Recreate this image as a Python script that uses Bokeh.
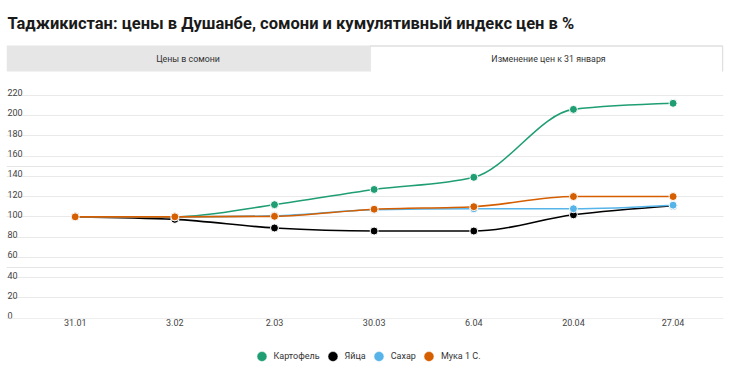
import numpy as np
from bokeh.plotting import figure
from bokeh.models import Range1d, FixedTicker, Legend, LegendItem, Grid
from bokeh.layouts import column
from bokeh.embed import file_html
from bokeh.resources import INLINE
from bokeh.core.properties import value

# ---------------- data ----------------
title_text = "Таджикистан: цены в Душанбе, сомони и кумулятивный индекс цен в %"
tab_labels = ["Цены в сомони", "Изменение цен к 31 января"]
dates = ["31.01", "3.02", "2.03", "30.03", "6.04", "20.04", "27.04"]
series_names = ["Картофель", "Яйца", "Сахар", "Мука 1 С."]
kartofel = [100, 100, 112, 127, 139, 206, 212]
yaitsa = [100, 97.5, 89, 86, 86, 102, 111]
sahar = [100, 100, 101, 107, 108, 108, 111.5]
muka = [100, 100, 100.5, 107.5, 110, 120, 120]
y_ticks = [0, 20, 40, 60, 80, 100, 120, 140, 160, 180, 200, 220]
y_labels = ["0", "20", "40", "60", "80", "100", "120", "140", "160", "180", "200", "220"]
colors = ["#1f9e74", "#000000", "#56b4e9", "#d55e00"]

FONT = "Roboto"
W = 730
FL, FR = 6, 723          # frame left/right in page pixels (shared by all rows)
X0, X1 = -0.6894, 6.506


def monotone_beziers(xs, ys):
    """Cubic bezier segments of a monotone-x curve (as d3.curveMonotoneX)."""
    xs = np.asarray(xs, float)
    ys = np.asarray(ys, float)
    n = len(xs)
    h = np.diff(xs)
    s = np.diff(ys) / h
    t = np.zeros(n)
    sg = lambda v: -1.0 if v < 0 else 1.0
    for i in range(1, n - 1):
        h0, h1 = h[i - 1], h[i]
        s0, s1 = s[i - 1], s[i]
        pp = (s0 * h1 + s1 * h0) / (h0 + h1)
        t[i] = (sg(s0) + sg(s1)) * min(abs(s0), abs(s1), 0.5 * abs(pp))
    t[0] = (3 * s[0] - t[1]) / 2
    t[-1] = (3 * s[-1] - t[-2]) / 2
    d = h / 3
    x0, x1 = xs[:-1], xs[1:]
    return dict(x0=x0, y0=ys[:-1], x1=x1, y1=ys[1:],
                cx0=x0 + d, cy0=ys[:-1] + t[:-1] * d,
                cx1=x1 - d, cy1=ys[1:] - t[1:] * d)


def bare(fig):
    fig.grid.visible = False
    fig.outline_line_color = None
    return fig


# ---------------- header (title + tabs) ----------------
hdr = bare(figure(width=W, height=80, x_range=Range1d(FL, FR), y_range=Range1d(80, 0),
                  output_backend="svg", toolbar_location=None,
                  x_axis_location=None, y_axis_location=None,
                  min_border_left=FL, min_border_right=W - FR,
                  min_border_top=0, min_border_bottom=0))

hdr.text(x=[7], y=[22.5], text=[title_text], text_font=value(FONT),
         text_font_style="bold", text_font_size="16.5px", text_color="#1a1a1a",
         text_baseline="alphabetic", text_align="left")

hdr.quad(left=[FL], right=[369], top=[45], bottom=[71], fill_color="#e6e6e6", line_color=None)
hdr.quad(left=[369], right=[FR], top=[45], bottom=[71], fill_color="#ffffff", line_color=None)
hdr.multi_line(xs=[[369.5, 369.5, FR - 0.8, FR - 0.8]], ys=[[71, 45.6, 45.6, 71]],
               line_color="#e0e0e0", line_width=1.5)

hdr.text(x=[187.5, 548], y=[58.5, 58.5], text=tab_labels, text_font=value(FONT),
         text_font_size="8.8px", text_color="#333333",
         text_align="center", text_baseline="middle")

# ---------------- main chart ----------------
p = figure(width=W, height=257,
           x_range=Range1d(X0, X1), y_range=Range1d(-0.3, 234.5),
           output_backend="svg", toolbar_location=None, y_axis_location=None,
           min_border_left=FL, min_border_right=W - FR, min_border_top=0, min_border_bottom=19)
p.outline_line_color = None
p.xgrid.visible = False
p.add_layout(Grid(dimension=1, ticker=FixedTicker(ticks=y_ticks),
                  grid_line_color="#e9e9e9", grid_line_width=1))

xs_idx = list(range(len(dates)))
p.xaxis.ticker = FixedTicker(ticks=xs_idx)
p.xaxis.major_label_overrides = {i: d for i, d in enumerate(dates)}
p.xaxis.axis_line_color = None
p.xaxis.major_tick_line_color = None
p.xaxis.minor_tick_line_color = None
p.xaxis.major_tick_out = 0
p.xaxis.major_tick_in = 0
p.xaxis.major_label_standoff = 0
p.xaxis.major_label_text_font = FONT
p.xaxis.major_label_text_font_size = "9px"
p.xaxis.major_label_text_color = "#444444"

# y labels sitting above grid lines, at the left edge
p.text(x=[X0] * len(y_ticks), y=y_ticks, text=y_labels, text_font=value(FONT),
       text_font_size="9px", text_color="#444444", text_align="left",
       text_baseline="alphabetic", x_offset=1, y_offset=-2.5)

all_series = [kartofel, yaitsa, sahar, muka]
for vals, col in zip(all_series, colors):
    bz = monotone_beziers(xs_idx, vals)
    p.bezier(source=bz, x0="x0", y0="y0", x1="x1", y1="y1",
             cx0="cx0", cy0="cy0", cx1="cx1", cy1="cy1",
             line_color=col, line_width=1.6)
    p.scatter(x=xs_idx, y=vals, size=8, fill_color=col,
              line_color="#ffffff", line_width=1)

# ---------------- legend strip ----------------
lg = bare(figure(width=W, height=37, x_range=Range1d(0, 1), y_range=Range1d(0, 1),
                 output_backend="svg", toolbar_location=None,
                 x_axis_location=None, y_axis_location=None,
                 min_border_left=FL, min_border_right=W - FR,
                 min_border_top=0, min_border_bottom=0))
items = []
for name, col in zip(series_names, colors):
    r = lg.scatter(x=[np.nan], y=[np.nan], fill_color=col, line_color="#ffffff", line_width=0.5)
    items.append(LegendItem(label=name, renderers=[r]))

legend = Legend(items=items, orientation="horizontal", location="center",
                glyph_width=25, glyph_height=25, label_standoff=0, spacing=0,
                padding=0, margin=0, background_fill_alpha=0, border_line_color=None,
                label_text_font=FONT, label_text_font_size="9px",
                label_text_color="#333333", label_height=25)
lg.add_layout(legend, "center")

layout = column(hdr, p, lg, spacing=0)
open("out.html", "w").write(file_html(layout, INLINE))
